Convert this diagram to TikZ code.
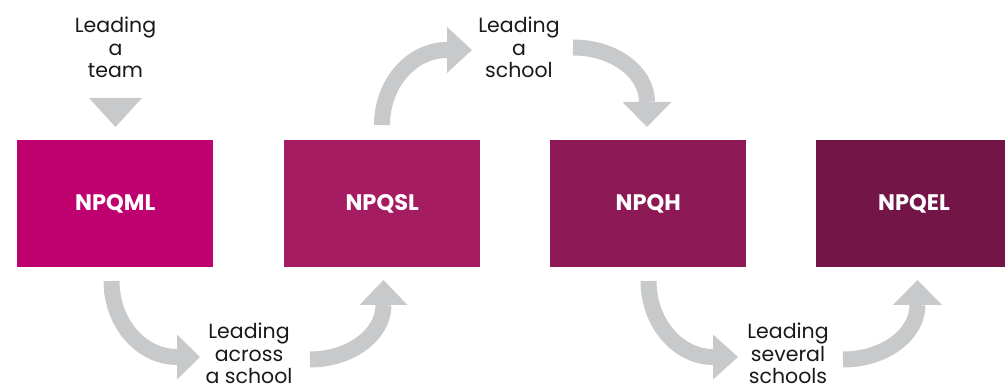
\documentclass[tikz,border=0pt]{standalone}
\usepackage{fontspec}
\setmainfont{Poppins}
\usetikzlibrary{calc}
\definecolor{cA}{RGB}{191,0,111}
\definecolor{cB}{RGB}{166,28,99}
\definecolor{cC}{RGB}{140,25,85}
\definecolor{cD}{RGB}{115,21,70}
\definecolor{agray}{RGB}{200,201,203}
\tikzset{
  box/.style={draw=none, inner sep=0pt, minimum width=196pt, minimum height=127pt,
    text=white, font=\bfseries\fontsize{22.5}{24}\selectfont},
  lbl/.style={align=center, inner sep=0pt, anchor=base, font=\fontsize{20.5}{22.5}\selectfont, text=black!90},
  band/.style={draw=agray, line width=16pt, line cap=butt},
  headfill/.style={fill=agray, draw=none}
}
\begin{document}
\begin{tikzpicture}[x=1pt, y=-1pt]
\useasboundingbox (0,0) rectangle (1005,387);
% boxes
\node[box, fill=cA, anchor=north west] (b1) at (17,140) {NPQML};
\node[box, fill=cB, anchor=north west] (b2) at (284,140) {NPQSL};
\node[box, fill=cC, anchor=north west] (b3) at (550,140) {NPQH};
\node[box, fill=cD, anchor=north west] (b4) at (816,140) {};
\node[text=white, font=\bfseries\fontsize{22.5}{24}\selectfont] (b4t) at (914,203.5) {NPQEL};
% labels (anchor=base is the baseline of the last line)
\node[lbl] (lt) at (115.5,78) {Leading\\a\\team};
\node[lbl] (ls) at (519,78) {Leading\\a\\school};
\node[lbl] (la) at (249,384) {Leading\\across\\a school};
\node[lbl] (lv) at (788,384) {Leading\\several\\schools};
% down triangle
\coordinate (t1) at (89,98);
\coordinate (t2) at (142,98);
\coordinate (t3) at (115.5,127);
\fill[headfill] (t1) -- (t2) -- (t3) -- cycle;
% arrow A
\coordinate (tA) at (111.5,281);
\coordinate (bA) at (177,357);
\coordinate (hA) at (200,357);
\draw[band] (tA) .. controls +(0,42) and +(-36,0) .. (bA);
\fill[headfill] ($(bA)+(0,-22.5)$) -- ($(bA)+(0,22.5)$) -- (hA) -- cycle;
% arrow B
\coordinate (tB) at (310,359.5);
\coordinate (bB) at (383.5,305);
\coordinate (hB) at (383.5,280);
\draw[band] (tB) .. controls +(40,0) and +(0,30) .. (bB);
\fill[headfill] ($(bB)+(-24,0)$) -- ($(bB)+(24,0)$) -- (hB) -- cycle;
% arrow C
\coordinate (tC) at (382,125);
\coordinate (bC) at (447,50);
\coordinate (hC) at (472,50);
\draw[band] (tC) .. controls +(0,-41) and +(-36,0) .. (bC);
\fill[headfill] ($(bC)+(0,-23)$) -- ($(bC)+(0,23)$) -- (hC) -- cycle;
% arrow D
\coordinate (tD) at (573,47.5);
\coordinate (bD) at (647,102);
\coordinate (hD) at (647,127);
\draw[band] (tD) .. controls +(41,0) and +(0,-30) .. (bD);
\fill[headfill] ($(bD)+(-24.5,0)$) -- ($(bD)+(24.5,0)$) -- (hD) -- cycle;
% arrow E
\coordinate (tE) at (648.5,281);
\coordinate (bE) at (713,357);
\coordinate (hE) at (738,357);
\draw[band] (tE) .. controls +(0,42) and +(-35,0) .. (bE);
\fill[headfill] ($(bE)+(0,-22.5)$) -- ($(bE)+(0,22.5)$) -- (hE) -- cycle;
% arrow F
\coordinate (tF) at (843,359.5);
\coordinate (bF) at (917.5,305);
\coordinate (hF) at (917.5,280);
\draw[band] (tF) .. controls +(41,0) and +(0,30) .. (bF);
\fill[headfill] ($(bF)+(-24.5,0)$) -- ($(bF)+(24.5,0)$) -- (hF) -- cycle;
\end{tikzpicture}
\end{document}
